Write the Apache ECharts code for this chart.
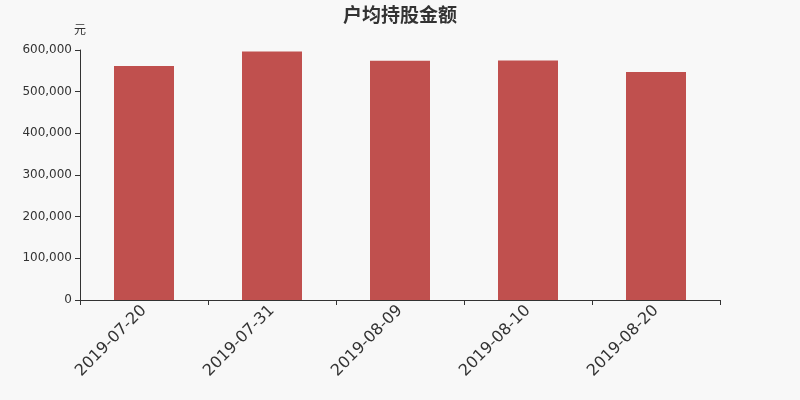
<!DOCTYPE html>
<html>
	<head>
		<meta charset="utf-8" />
		<title>户均持股金额</title>
		<style type="text/css">
			body,
			html,
			#main {
				width: 100%;
				height: 100%;
				overflow: hidden;
				margin: 0;
				background: #f8f8f8;
			}
		</style>
	</head>
	<body>
		<div id="main"></div>
		<script src="https://cdn.jsdelivr.net/npm/echarts@6/dist/echarts.min.js"></script>
		<script>
			// 数据
			var dates = ['2019-07-20', '2019-07-31', '2019-08-09', '2019-08-10', '2019-08-20'];
			var amounts = [561600, 596500, 574400, 574800, 547200];

			var myChart = echarts.init(document.getElementById('main'));
			var option = {
				backgroundColor: '#f8f8f8',
				textStyle: { fontFamily: 'DejaVu Sans' },
				title: {
					text: '户均持股金额',
					left: 'center',
					top: 0,
					textStyle: { fontSize: 19, fontWeight: 'bold', color: '#333', fontFamily: 'Noto Sans CJK SC' }
				},
				grid: { left: 80, right: 80, top: 50, bottom: 100 },
				xAxis: {
					type: 'category',
					data: dates,
					axisLine: { lineStyle: { color: '#333' } },
					axisTick: { show: true, alignWithLabel: false },
					axisLabel: { rotate: 45, fontSize: 16, color: '#333', margin: 8 }
				},
				yAxis: {
					type: 'value',
					name: '元',
					nameGap: 15,
					nameTextStyle: { color: '#333', fontSize: 12, fontFamily: 'Noto Sans CJK SC' },
					min: 0,
					max: 600000,
					interval: 100000,
					axisLine: { show: true, lineStyle: { color: '#333' } },
					axisTick: { show: true },
					splitLine: { show: false },
					axisLabel: {
						color: '#333',
						fontSize: 12,
						formatter: function (v) { return v.toLocaleString('en-US'); }
					}
				},
				series: [
					{
						type: 'bar',
						data: amounts,
						barWidth: 60,
						itemStyle: { color: '#c0504e' }
					}
				]
			};
			myChart.setOption(option);
		</script>
	</body>
</html>
